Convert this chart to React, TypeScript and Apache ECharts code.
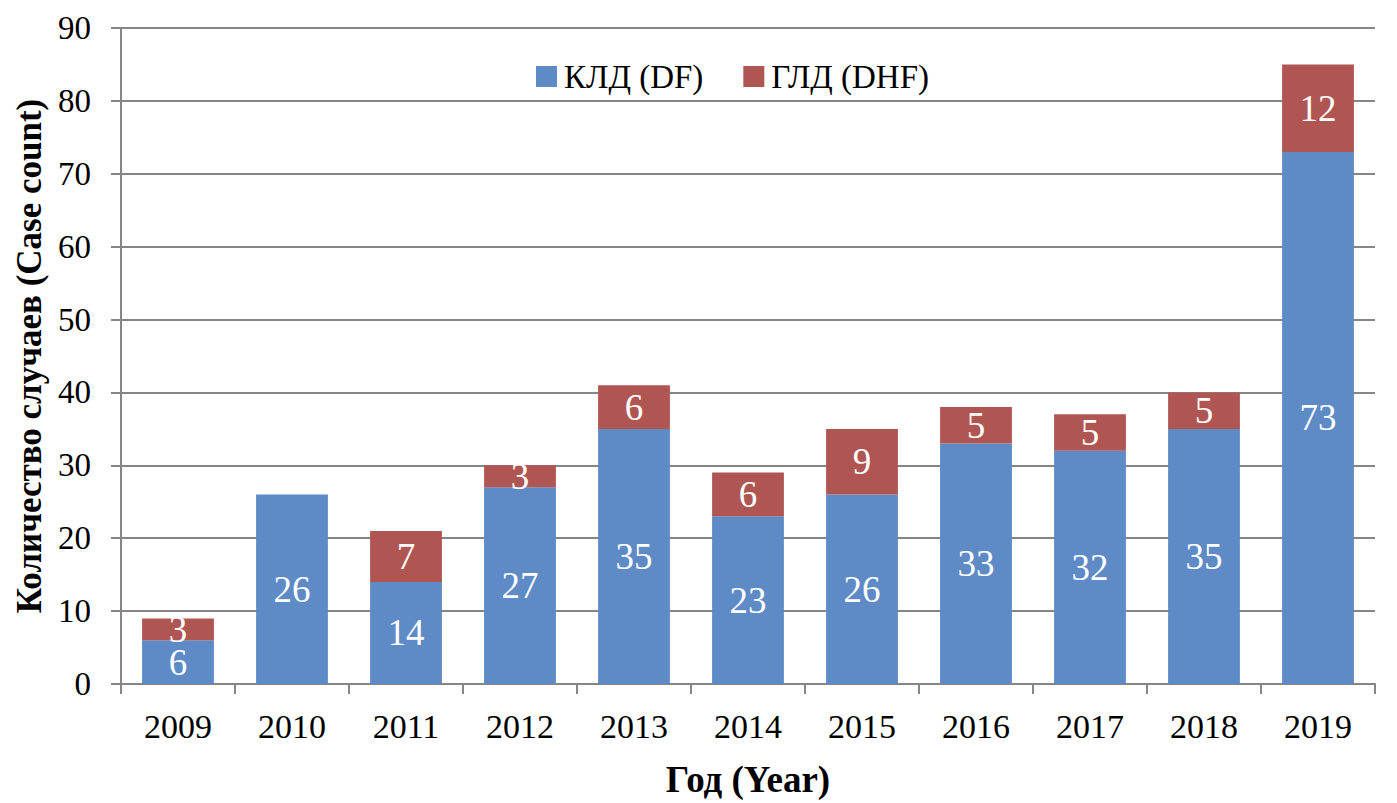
import React, { useEffect, useRef } from "react";
import * as echarts from "echarts";

const years = ["2009", "2010", "2011", "2012", "2013", "2014", "2015", "2016", "2017", "2018", "2019"];
const dfValues = [6, 26, 14, 27, 35, 23, 26, 33, 32, 35, 73];
const dhfValues = [3, 0, 7, 3, 6, 6, 9, 5, 5, 5, 12];
const dfName = "КЛД (DF)";
const dhfName = "ГЛД (DHF)";

const FONT = "Liberation Serif";
const BLUE = "#5E8AC5";
const RED = "#AF5652";

export default function App() {
  const ref = useRef<HTMLDivElement>(null);
  useEffect(() => {
    if (!ref.current) return;
    const chart = echarts.init(ref.current, undefined, { renderer: "svg" });
    const labelCfg = {
      show: true,
      position: "inside",
      color: "#fff",
      fontFamily: FONT,
      fontSize: 37,
      formatter: (p: any) => (p.value ? String(p.value) : ""),
    };
    chart.setOption({
      animation: false,
      backgroundColor: "#fff",
      textStyle: { fontFamily: FONT },
      grid: { left: 121, right: 22, top: 28, bottom: 116, containLabel: false },
      legend: {
        top: 55,
        left: 531,
        itemWidth: 21,
        itemHeight: 21,
        itemGap: 40,
        icon: "rect",
        textStyle: { fontFamily: FONT, fontSize: 33, color: "#000", padding: [0, 0, 0, 2] },
        data: [dfName, dhfName],
      },
      xAxis: {
        type: "category",
        data: years,
        name: "Год (Year)",
        nameLocation: "middle",
        nameGap: 77,
        nameTextStyle: { fontFamily: FONT, fontSize: 37, fontWeight: "bold", color: "#000" },
        axisLine: { lineStyle: { color: "#868686", width: 2 } },
        axisTick: { show: true, length: 10, lineStyle: { color: "#868686", width: 2 } },
        axisLabel: { fontFamily: FONT, fontSize: 34, color: "#000", margin: 25 },
      },
      yAxis: {
        type: "value",
        min: 0,
        max: 90,
        interval: 10,
        name: "Количество случаев (Case count)",
        nameLocation: "middle",
        nameGap: 73,
        nameTextStyle: { fontFamily: FONT, fontSize: 35, fontWeight: "bold", color: "#000" },
        axisLine: { show: true, lineStyle: { color: "#868686", width: 2 } },
        axisTick: { show: true, length: 10, inside: false, lineStyle: { color: "#868686", width: 2 } },
        axisLabel: { fontFamily: FONT, fontSize: 33, color: "#000", margin: 30 },
        splitLine: { show: true, lineStyle: { color: "#868686", width: 2 } },
      },
      series: [
        {
          name: dfName,
          type: "bar",
          stack: "total",
          data: dfValues,
          barWidth: "63%",
          itemStyle: { color: BLUE },
          label: labelCfg,
        },
        {
          name: dhfName,
          type: "bar",
          stack: "total",
          data: dhfValues,
          barWidth: "63%",
          itemStyle: { color: RED },
          label: labelCfg,
        },
      ],
    });
    return () => chart.dispose();
  }, []);
  return (
    <div
      ref={ref}
      style={{ position: "fixed", left: 0, top: 0, width: 1397, height: 803 }}
    />
  );
}
